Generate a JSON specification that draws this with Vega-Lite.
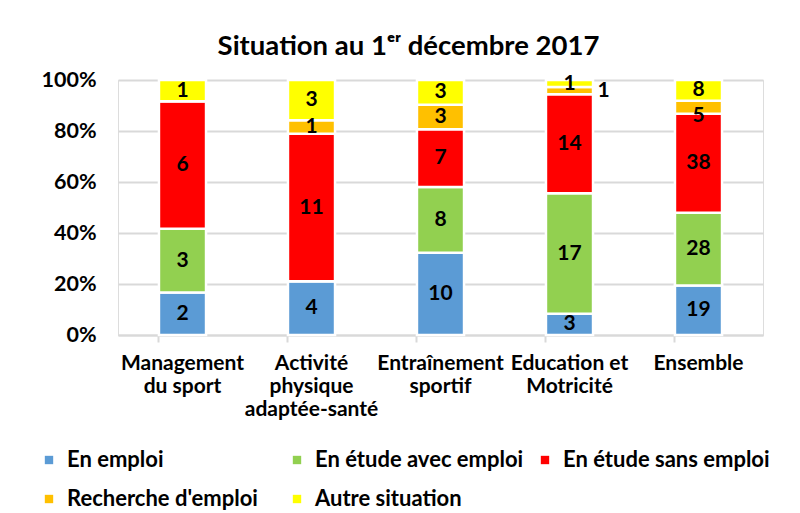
{
  "$schema": "https://vega.github.io/schema/vega-lite/v6.json",
  "autosize": "none",
  "width": 645,
  "height": 255,
  "padding": {"left": 118, "top": 80, "right": 37, "bottom": 178},
  "background": "white",
  "title": {
    "text": "Situation au 1ᵉʳ décembre 2017",
    "font": "Lato",
    "fontSize": 27.5,
    "fontWeight": "bold",
    "color": "#000000",
    "anchor": "middle",
    "frame": "group",
    "dx": -32,
    "offset": 9
  },
  "data": {
    "values": [
      {"cat": "Management du sport", "sit": "En emploi", "ord": 1, "n": 2},
      {"cat": "Management du sport", "sit": "En étude avec emploi", "ord": 2, "n": 3},
      {"cat": "Management du sport", "sit": "En étude sans emploi", "ord": 3, "n": 6},
      {"cat": "Management du sport", "sit": "Recherche d'emploi", "ord": 4, "n": 0},
      {"cat": "Management du sport", "sit": "Autre situation", "ord": 5, "n": 1},
      {"cat": "Activité physique adaptée-santé", "sit": "En emploi", "ord": 1, "n": 4},
      {"cat": "Activité physique adaptée-santé", "sit": "En étude avec emploi", "ord": 2, "n": 0},
      {"cat": "Activité physique adaptée-santé", "sit": "En étude sans emploi", "ord": 3, "n": 11},
      {"cat": "Activité physique adaptée-santé", "sit": "Recherche d'emploi", "ord": 4, "n": 1},
      {"cat": "Activité physique adaptée-santé", "sit": "Autre situation", "ord": 5, "n": 3},
      {"cat": "Entraînement sportif", "sit": "En emploi", "ord": 1, "n": 10},
      {"cat": "Entraînement sportif", "sit": "En étude avec emploi", "ord": 2, "n": 8},
      {"cat": "Entraînement sportif", "sit": "En étude sans emploi", "ord": 3, "n": 7},
      {"cat": "Entraînement sportif", "sit": "Recherche d'emploi", "ord": 4, "n": 3},
      {"cat": "Entraînement sportif", "sit": "Autre situation", "ord": 5, "n": 3},
      {"cat": "Education et Motricité", "sit": "En emploi", "ord": 1, "n": 3},
      {"cat": "Education et Motricité", "sit": "En étude avec emploi", "ord": 2, "n": 17},
      {"cat": "Education et Motricité", "sit": "En étude sans emploi", "ord": 3, "n": 14},
      {"cat": "Education et Motricité", "sit": "Recherche d'emploi", "ord": 4, "n": 1},
      {"cat": "Education et Motricité", "sit": "Autre situation", "ord": 5, "n": 1},
      {"cat": "Ensemble", "sit": "En emploi", "ord": 1, "n": 19},
      {"cat": "Ensemble", "sit": "En étude avec emploi", "ord": 2, "n": 28},
      {"cat": "Ensemble", "sit": "En étude sans emploi", "ord": 3, "n": 38},
      {"cat": "Ensemble", "sit": "Recherche d'emploi", "ord": 4, "n": 5},
      {"cat": "Ensemble", "sit": "Autre situation", "ord": 5, "n": 8}
    ]
  },
  "transform": [
    {"stack": "n", "groupby": ["cat"], "sort": [{"field": "ord", "order": "ascending"}], "offset": "normalize", "as": ["y0", "y1"]},
    {"calculate": "(datum.y0 + datum.y1) / 2", "as": "ym"}
  ],
  "encoding": {
    "x": {
      "field": "cat",
      "type": "nominal",
      "sort": ["Management du sport", "Activité physique adaptée-santé", "Entraînement sportif", "Education et Motricité", "Ensemble"],
      "scale": {"paddingInner": 0.635, "paddingOuter": 0.3175},
      "axis": {
        "title": null,
        "labelAngle": 0,
        "labelFont": "Lato",
        "labelFontSize": 21,
        "labelFontWeight": "bold",
        "labelColor": "#000000",
        "labelLineHeight": 23,
        "labelPadding": 10,
        "labelBaseline": "top",
        "labelLimit": 200,
        "labelExpr": "datum.value == 'Management du sport' ? ['Management', 'du sport'] : datum.value == 'Activité physique adaptée-santé' ? ['Activité', 'physique', 'adaptée-santé'] : datum.value == 'Entraînement sportif' ? ['Entraînement', 'sportif'] : datum.value == 'Education et Motricité' ? ['Education et', 'Motricité'] : datum.value",
        "domainColor": "#d9d9d9",
        "domainWidth": 2,
        "tickColor": "#d9d9d9",
        "tickWidth": 2,
        "tickSize": 7,
        "bandPosition": 0
      }
    }
  },
  "layer": [
    {
      "mark": {"type": "bar", "stroke": "white", "strokeWidth": 2.5},
      "encoding": {
        "y": {
          "field": "y0",
          "type": "quantitative",
          "scale": {"domain": [0, 1]},
          "axis": {
            "title": null,
            "format": ".0%",
            "values": [0, 0.2, 0.4, 0.6, 0.8, 1],
            "labelFont": "Lato",
            "labelFontSize": 21.5,
            "labelFontWeight": "bold",
            "labelColor": "#000000",
            "labelPadding": 22,
            "domain": false,
            "ticks": false,
            "grid": true,
            "gridColor": "#d9d9d9",
            "gridWidth": 2
          }
        },
        "y2": {"field": "y1"},
        "color": {
          "field": "sit",
          "type": "nominal",
          "scale": {
            "domain": ["En emploi", "En étude avec emploi", "En étude sans emploi", "Recherche d'emploi", "Autre situation"],
            "range": ["#5B9BD5", "#92D050", "#FF0000", "#FFC000", "#FFFF00"]
          },
          "legend": {
            "title": null,
            "orient": "none",
            "legendX": -80,
            "legendY": 369,
            "direction": "horizontal",
            "columns": 3,
            "gridAlign": "all",
            "columnPadding": 10,
            "rowPadding": 17,
            "symbolType": "square",
            "symbolSize": 70,
            "symbolStrokeWidth": 0,
            "labelFont": "Lato",
            "labelFontSize": 22,
            "labelFontWeight": "bold",
            "labelColor": "#000000",
            "labelOffset": 7,
            "labelLimit": 300
          }
        }
      }
    },
    {
      "transform": [{"filter": "datum.n > 0 && datum.ord != 4 || (datum.ord == 4 && datum.n > 0 && datum.cat != 'Education et Motricité' && datum.cat != 'Ensemble')"}],
      "mark": {"type": "text", "font": "Lato", "fontSize": 21, "fontWeight": "bold", "color": "#000000", "baseline": "middle"},
      "encoding": {
        "y": {"field": "ym", "type": "quantitative"},
        "text": {"field": "n", "type": "quantitative"}
      }
    },
    {
      "transform": [{"filter": "datum.cat == 'Education et Motricité' && datum.ord == 4"}],
      "mark": {"type": "text", "font": "Lato", "fontSize": 21, "fontWeight": "bold", "color": "#000000", "baseline": "middle", "dx": 34},
      "encoding": {
        "y": {"field": "ym", "type": "quantitative"},
        "text": {"field": "n", "type": "quantitative"}
      }
    },
    {
      "transform": [{"filter": "datum.cat == 'Ensemble' && datum.ord == 4"}],
      "mark": {"type": "text", "font": "Lato", "fontSize": 21, "fontWeight": "bold", "color": "#000000", "baseline": "middle", "dy": 9},
      "encoding": {
        "y": {"field": "ym", "type": "quantitative"},
        "text": {"field": "n", "type": "quantitative"}
      }
    }
  ]
}
